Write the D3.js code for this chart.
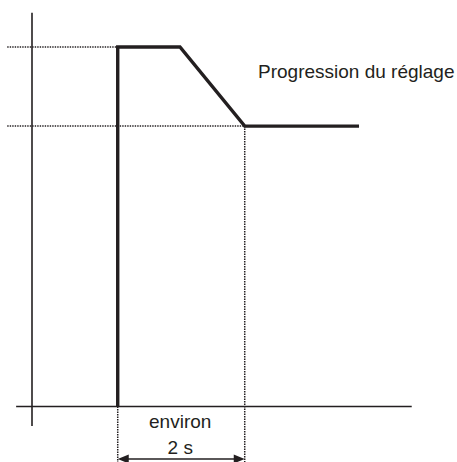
<!DOCTYPE html>
<html>
<head>
<meta charset="utf-8">
<script src="https://cdn.jsdelivr.net/npm/d3@7/dist/d3.min.js"></script>
<style>
  html, body { margin: 0; padding: 0; background: #fff; }
  svg { display: block; }
  text { font-family: "Liberation Sans", Arial, Helvetica, sans-serif; fill: #231f20; }
</style>
</head>
<body>
<svg id="chart" width="457" height="462"></svg>
<script>
// Setting profile: time (s) and setting level
const times  = [1.35, 1.35, 2.33, 3.35, 5.15];
const levels = [0, 100, 100, 78, 78];

// Reference levels marked with dotted guides
const guideLevels = [100, 78];
const guideStart = -0.39;

// Duration bracket under the axis
const spanStart = 1.35;
const spanEnd = 3.35;
const spanLabels = ["environ", "2 s"];
const seriesLabel = "Progression du réglage";

// Axis extents
const xAxisDomain = [-0.25, 5.98];
const yAxisDomain = [-5.4, 109.5];

const svg = d3.select("#chart");
const x = d3.scaleLinear().domain([0, 6]).range([32, 413]);
const y = d3.scaleLinear().domain([0, 100]).range([406.5, 47]);
const ink = "#231f20";
const dots = "1.4,1.1";

// Axes
svg.append("line")
  .attr("x1", x(0)).attr("x2", x(0))
  .attr("y1", y(yAxisDomain[1])).attr("y2", y(yAxisDomain[0]))
  .attr("stroke", ink).attr("stroke-width", 1.6);
svg.append("line")
  .attr("x1", x(xAxisDomain[0])).attr("x2", x(xAxisDomain[1]))
  .attr("y1", y(0)).attr("y2", y(0))
  .attr("stroke", ink).attr("stroke-width", 1.6);

// Dotted horizontal guides to each level
const guideEnds = [spanStart, spanEnd];
svg.selectAll("line.guide-h").data(guideLevels).enter().append("line")
  .attr("class", "guide-h")
  .attr("x1", x(guideStart)).attr("x2", (d, i) => x(guideEnds[i]))
  .attr("y1", d => y(d)).attr("y2", d => y(d))
  .attr("stroke", ink).attr("stroke-width", 1.5)
  .attr("stroke-dasharray", dots);

// Dotted vertical guides delimiting the duration
const bracketY = 459;
svg.append("line")
  .attr("x1", x(spanStart)).attr("x2", x(spanStart))
  .attr("y1", y(0)).attr("y2", 462)
  .attr("stroke", ink).attr("stroke-width", 1.5).attr("stroke-dasharray", dots);
svg.append("line")
  .attr("x1", x(spanEnd)).attr("x2", x(spanEnd))
  .attr("y1", y(78)).attr("y2", 462)
  .attr("stroke", ink).attr("stroke-width", 1.5).attr("stroke-dasharray", dots);

// Setting profile
const line = d3.line().x(d => x(d[0])).y(d => y(d[1]));
svg.append("path")
  .datum(times.map((t, i) => [t, levels[i]]))
  .attr("d", line)
  .attr("fill", "none")
  .attr("stroke", ink)
  .attr("stroke-width", 3.4)
  .attr("stroke-linejoin", "miter")
  .attr("stroke-linecap", "butt");

// Double-headed arrow for the duration
const xa = x(spanStart), xb = x(spanEnd);
const headLen = 11, headHalf = 4.5;
svg.append("line")
  .attr("x1", xa + headLen - 1).attr("x2", xb - headLen + 1)
  .attr("y1", bracketY).attr("y2", bracketY)
  .attr("stroke", ink).attr("stroke-width", 1.5);
svg.append("path")
  .attr("d", `M${xa},${bracketY}L${xa + headLen},${bracketY - headHalf}L${xa + headLen},${bracketY + headHalf}Z`)
  .attr("fill", ink);
svg.append("path")
  .attr("d", `M${xb},${bracketY}L${xb - headLen},${bracketY - headHalf}L${xb - headLen},${bracketY + headHalf}Z`)
  .attr("fill", ink);

// Duration labels
const midX = (xa + xb) / 2 - 1;
svg.selectAll("text.span").data(spanLabels).enter().append("text")
  .attr("class", "span")
  .attr("x", midX)
  .attr("y", (d, i) => 428 + i * 26)
  .attr("text-anchor", "middle")
  .attr("font-size", 19)
  .text(d => d);

// Series label
svg.append("text")
  .attr("x", 258)
  .attr("y", 78)
  .attr("font-size", 19)
  .text(seriesLabel);
</script>
</body>
</html>
